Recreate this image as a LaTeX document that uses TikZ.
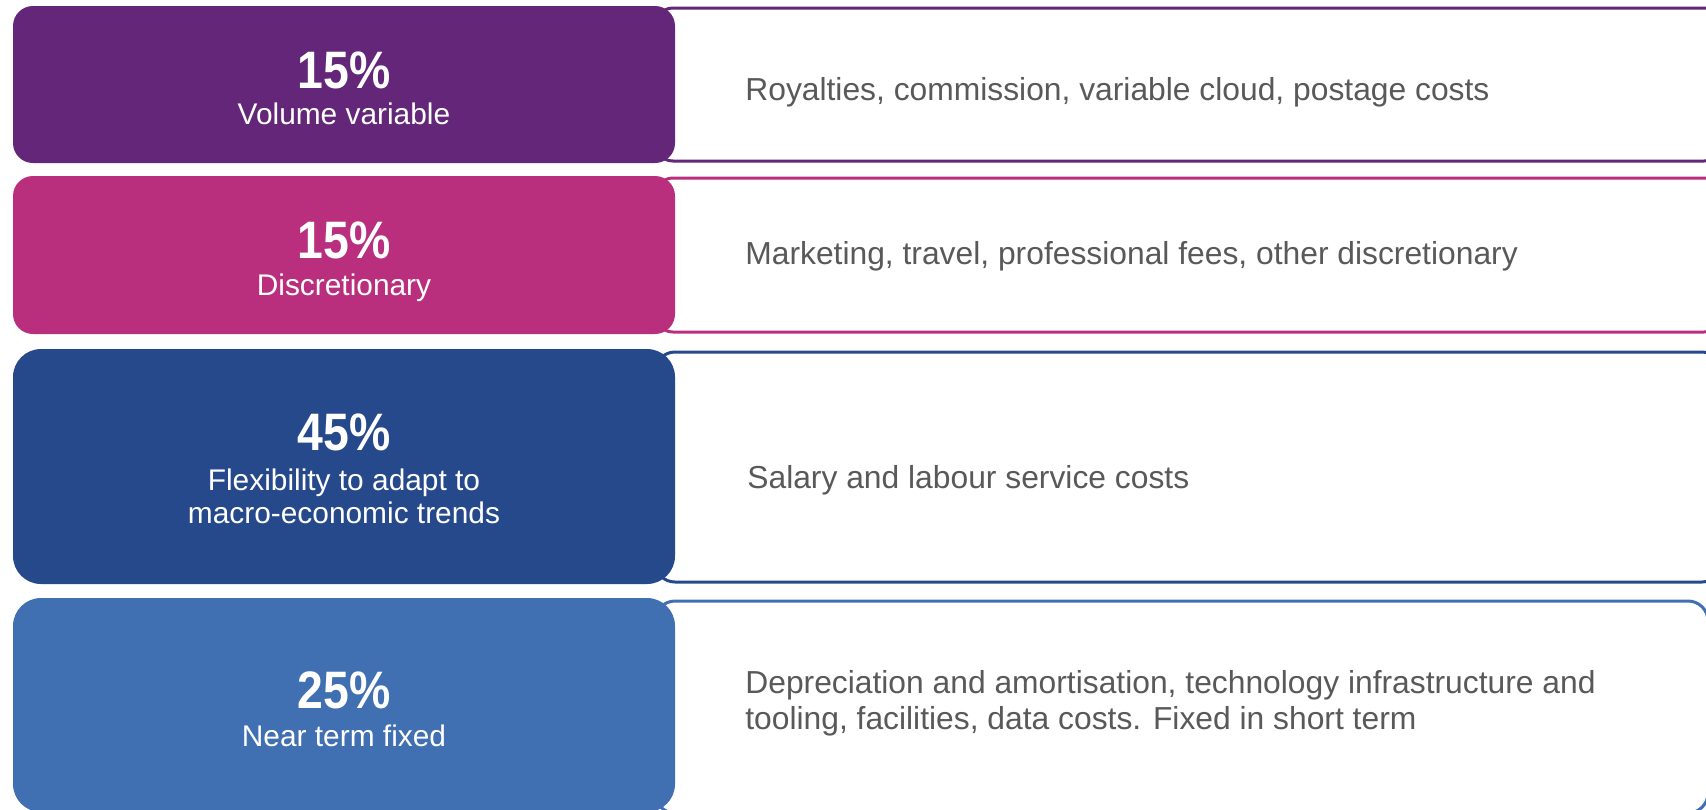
\documentclass[tikz,border=0pt]{standalone}
\usepackage{fontspec}
\setmainfont{Liberation Sans}
\newfontfamily\pctfont{Liberation Sans}[FakeStretch=0.88]

\definecolor{volpurple}{RGB}{99,38,120}
\definecolor{discpink}{RGB}{186,47,125}
\definecolor{flexblue}{RGB}{38,73,140}
\definecolor{fixedblue}{RGB}{64,112,178}
\definecolor{itemgray}{RGB}{89,89,89}

\tikzset{
  listbox/.style={line width=0.06cm, fill=white},
  pcttext/.style={anchor=base, inner sep=0pt, text=white, font=\pctfont\bfseries\fontsize{30}{34}\selectfont},
  cattext/.style={anchor=base, inner sep=0pt, text=white, font=\fontsize{17}{20}\selectfont},
  itemtext/.style={anchor=base west, inner sep=0pt, text=itemgray, font=\fontsize{18.1}{21}\selectfont},
}

\begin{document}
\begin{tikzpicture}[x=0.02cm, y=-0.02cm]
  \useasboundingbox (0,0) rectangle (1706,809);
  \clip (0,0) rectangle (1706,809);

  % Row 1: volume variable
  \draw [listbox, draw=volpurple, rounded corners=0.36cm] (655,8) rectangle (1722,161);
  \fill [volpurple, rounded corners=0.40cm] (13,6) rectangle (675,163);
  \node (pct1) [pcttext] at (344,88) {15\%};
  \node (cat1) [cattext] at (344,124) {Volume variable};
  \node (item1) [itemtext] at (745,100) {Royalties, commission, variable cloud, postage costs};

  % Row 2: discretionary
  \draw [listbox, draw=discpink, rounded corners=0.36cm] (655,178) rectangle (1722,332);
  \fill [discpink, rounded corners=0.40cm] (13,176) rectangle (675,334);
  \node (pct2) [pcttext] at (344,258) {15\%};
  \node (cat2) [cattext] at (344,295) {Discretionary};
  \node (item2) [itemtext] at (745,264) {Marketing, travel, professional fees, other discretionary};

  % Row 3: flexibility
  \draw [listbox, draw=flexblue, rounded corners=0.40cm] (655,352) rectangle (1722,582);
  \fill [flexblue, rounded corners=0.56cm] (13,349) rectangle (675,584);
  \node (pct3) [pcttext] at (344,450) {45\%};
  \node (cat3a) [cattext] at (344,490) {Flexibility to adapt to};
  \node (cat3b) [cattext] at (344,523) {macro-economic trends};
  \node (item3) [itemtext] at (747,488) {Salary and labour service costs};

  % Row 4: near term fixed
  \draw [listbox, draw=fixedblue, rounded corners=0.40cm] (655,601) rectangle (1708,813);
  \fill [fixedblue, rounded corners=0.56cm] (13,598) rectangle (675,812);
  \node (pct4) [pcttext] at (344,708) {25\%};
  \node (cat4) [cattext] at (344,746) {Near term fixed};
  \node (item4a) [itemtext] at (745,693) {Depreciation and amortisation, technology infrastructure and};
  \node (item4b) [itemtext] at (745,729) {tooling, facilities, data costs. Fixed in short term};
\end{tikzpicture}
\end{document}
